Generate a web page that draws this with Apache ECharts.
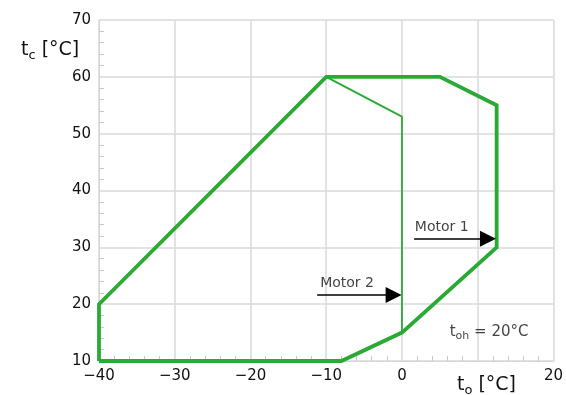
<!DOCTYPE html>
<html><head><meta charset="utf-8">
<script src="https://cdn.jsdelivr.net/npm/echarts@6/dist/echarts.min.js"></script>
<style>html,body{margin:0;padding:0;background:#fff}#c{width:566px;height:395px}</style>
</head><body><div id="c"></div>
<script>
// Envelope (Motor 1) — evaporating temp t0, condensing temp tc
const motor1T0 = [-40, -40, -10, 5, 12.5, 12.5, 0, -8, -40];
const motor1Tc = [10, 20, 60, 60, 55, 30, 15, 10, 10];
// Motor 2 inner boundary
const motor2T0 = [-10, 0, 0];
const motor2Tc = [60, 53, 15];
// Arrows [from, to] (end = centre of the arrow head)
const arrow1 = [[1.6, 31.5], [11.35, 31.5]];
const arrow2 = [[-11.2, 21.6], [-1.1, 21.6]];
// Annotations [t0, tc, text]
const notes = [[1.7, 33.6, 'Motor 1'], [-10.8, 23.7, 'Motor 2'], [6.3, 15.0, 'toh']];
const xTicks = {min: -40, max: 20, step: 10, hidden: [10]};
const yTicks = {min: 10, max: 70, step: 10};

const green = '#2ba935';
const font = 'DejaVu Sans';
const chart = echarts.init(document.getElementById('c'), null, {renderer: 'canvas'});
const zip = (a, b) => a.map((v, i) => [v, b[i]]);
const fmt = v => String(v).replace('-', '\u2212');
chart.setOption({
  animation: false,
  grid: {left: 99, right: 11, top: 20, bottom: 34, containLabel: false},
  xAxis: {
    type: 'value', min: xTicks.min, max: xTicks.max, interval: xTicks.step,
    axisLine: {show: true, onZero: false, lineStyle: {color: '#d6d6d6', width: 1}},
    axisTick: {show: false, inside: true},
    minorTick: {show: true, splitNumber: 5, length: 5, lineStyle: {color: '#c8c8c8'}},
    minorSplitLine: {show: false},
    splitLine: {show: true, lineStyle: {color: '#d9d9d9', width: 1.5}},
    axisLabel: {formatter: v => xTicks.hidden.includes(v) ? '' : fmt(v), color: '#111', fontFamily: font, fontSize: 15, margin: 8}
  },
  yAxis: {
    type: 'value', min: yTicks.min, max: yTicks.max, interval: yTicks.step,
    axisLine: {show: true, onZero: false, lineStyle: {color: '#d6d6d6', width: 1}},
    axisTick: {show: false, inside: true},
    minorTick: {show: true, splitNumber: 5, length: 5, lineStyle: {color: '#c8c8c8'}},
    splitLine: {show: true, lineStyle: {color: '#d9d9d9', width: 1.5}},
    axisLabel: {formatter: fmt, color: '#111', fontFamily: font, fontSize: 15, margin: 8}
  },
  series: [
    {type: 'line', data: zip(motor2T0, motor2Tc), symbol: 'none', lineStyle: {color: green, width: 1.8}, z: 3},
    {type: 'line', data: zip(motor1T0, motor1Tc), symbol: 'none', lineStyle: {color: green, width: 3.8, join: 'miter'}, z: 4},
    {type: 'lines', coordinateSystem: 'cartesian2d', symbol: ['none', 'triangle'], symbolSize: [9, 16],
     lineStyle: {color: '#000', width: 1.6, opacity: 1},
     data: [{coords: arrow1}, {coords: arrow2}], z: 5},
    {type: 'scatter', symbolSize: 0, z: 6,
     data: notes.map(n => ({value: [n[0], n[1]], name: n[2]})),
     label: {show: true, position: 'right', distance: 0, fontFamily: font, fontSize: 14, color: '#111',
       formatter: p => p.name === 'toh' ? '{t|t}{s|oh}{t| = 20°C}' : p.name,
       rich: {t: {fontFamily: font, fontSize: 15, color: '#111'}, s: {fontFamily: font, fontSize: 11, color: '#111', padding: [8, 0, 0, 0]}}}
    }
  ],
  graphic: [
    {type: 'text', left: 21, top: 41, style: {rich: {t: {fontFamily: font, fontSize: 19, fill: '#111'}, s: {fontFamily: font, fontSize: 13, fill: '#111', padding: [10, 0, 0, 0]}}, text: '{t|t}{s|c}{t| [°C]}'}},
    {type: 'text', left: 457, top: 376, style: {rich: {t: {fontFamily: font, fontSize: 19, fill: '#111'}, s: {fontFamily: font, fontSize: 13, fill: '#111', padding: [10, 0, 0, 0]}}, text: '{t|t}{s|o}{t| [°C]}'}}
  ]
});
</script></body></html>
